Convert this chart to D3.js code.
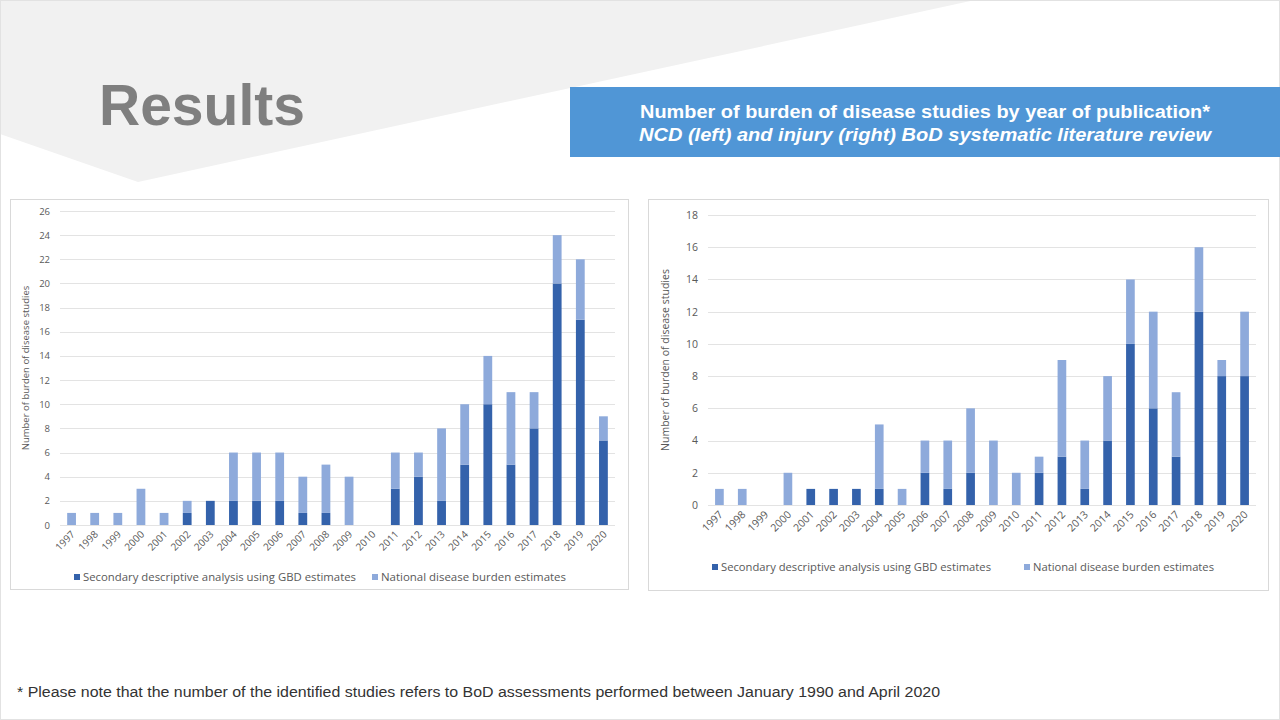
<!DOCTYPE html>
<html>
<head>
<meta charset="utf-8">
<script src="https://cdn.jsdelivr.net/npm/d3@7"></script>
<style>
  html, body { margin: 0; padding: 0; background: #fff; }
  svg { display: block; }
</style>
</head>
<body>
<svg id="slide" width="1280" height="720"></svg>
<script>
// Years of publication (shared by both charts)
const years = ['1997','1998','1999','2000','2001','2002','2003','2004','2005','2006','2007','2008',
               '2009','2010','2011','2012','2013','2014','2015','2016','2017','2018','2019','2020'];

// NCD (left) chart
const ncdGbd      = [0,0,0,0,0,1,2,2,2,2,1,1,0,0,3,4,2,5,10,5,8,20,17,7];
const ncdNational = [1,1,1,3,1,1,0,4,4,4,3,4,4,0,3,2,6,5,4,6,3,4,5,2];
const ncdTicks    = [0,2,4,6,8,10,12,14,16,18,20,22,24,26];

// Injury (right) chart
const injGbd      = [0,0,0,0,1,1,1,1,0,2,1,2,0,0,2,3,1,4,10,6,3,12,8,8];
const injNational = [1,1,0,2,0,0,0,4,1,2,3,4,4,2,1,6,3,4,4,6,4,4,1,4];
const injTicks    = [0,2,4,6,8,10,12,14,16,18];

const seriesNames = ['Secondary descriptive analysis using GBD estimates', 'National disease burden estimates'];
const colors = ['#3462ab', '#8eaadb'];

const svg = d3.select('#slide');

// Slide background decoration
svg.append('path')
    .attr('d', 'M0,0 L975,0 L138,182 L0,134 Z')
    .attr('fill', '#f1f1f1');
svg.append('rect')
    .attr('x', 0.5).attr('y', 0.5).attr('width', 1279).attr('height', 719)
    .attr('fill', 'none').attr('stroke', '#e2e2e2');

svg.append('text')
    .attr('x', 99).attr('y', 125)
    .attr('font-family', 'Liberation Sans, Arial, sans-serif')
    .attr('font-weight', 'bold')
    .attr('font-size', 57)
    .attr('fill', '#7f7f7f')
    .text('Results');

// Title box
svg.append('rect')
    .attr('x', 570).attr('y', 87).attr('width', 712).attr('height', 70)
    .attr('fill', '#5096d6');
svg.append('text')
    .attr('x', 925).attr('y', 118)
    .attr('text-anchor', 'middle')
    .attr('font-family', 'Liberation Sans, Arial, sans-serif')
    .attr('font-weight', 'bold')
    .attr('font-size', 18)
    .attr('fill', '#fff')
    .attr('textLength', 570).attr('lengthAdjust', 'spacingAndGlyphs')
    .text('Number of burden of disease studies by year of publication*');
svg.append('text')
    .attr('x', 925).attr('y', 141)
    .attr('text-anchor', 'middle')
    .attr('font-family', 'Liberation Sans, Arial, sans-serif')
    .attr('font-weight', 'bold')
    .attr('font-style', 'italic')
    .attr('font-size', 18)
    .attr('fill', '#fff')
    .attr('textLength', 572).attr('lengthAdjust', 'spacingAndGlyphs')
    .text('NCD (left) and injury (right) BoD systematic literature review');

// Footnote
svg.append('text')
    .attr('x', 17).attr('y', 697)
    .attr('font-family', 'Liberation Sans, Arial, sans-serif')
    .attr('font-size', 14)
    .attr('fill', '#333')
    .attr('textLength', 923).attr('lengthAdjust', 'spacingAndGlyphs')
    .text('* Please note that the number of the identified studies refers to BoD assessments performed between January 1990 and April 2020');

function drawChart(opts) {
    const { panel, plot, gbd, national, ticks, fs, legend, yTitleX } = opts;

    svg.append('rect')
        .attr('x', panel.x + 0.5).attr('y', panel.y + 0.5)
        .attr('width', panel.w).attr('height', panel.h)
        .attr('fill', '#fff').attr('stroke', '#d9d9d9');

    const data = years.map((y, i) => ({ year: y, gbd: gbd[i], national: national[i] }));
    const stacked = d3.stack().keys(['gbd', 'national'])(data);

    const x = d3.scaleBand()
        .domain(years)
        .range([plot.x0, plot.x1])
        .paddingInner(0.62)
        .paddingOuter(0.31);

    const y = d3.scaleLinear()
        .domain([0, d3.max(ticks)])
        .range([plot.y0, plot.y1]);

    const g = svg.append('g');

    // Gridlines
    g.append('g')
        .selectAll('line')
        .data(ticks)
        .join('line')
        .attr('x1', plot.x0).attr('x2', plot.x1)
        .attr('y1', d => Math.round(y(d)) + 0.5)
        .attr('y2', d => Math.round(y(d)) + 0.5)
        .attr('stroke', '#e3e3e3');

    // Y axis labels
    const yAxis = g.append('g')
        .attr('transform', `translate(${plot.x0 - 10},0)`)
        .call(d3.axisLeft(y).tickValues(ticks).tickSize(0).tickPadding(0));
    yAxis.select('.domain').remove();
    yAxis.selectAll('text')
        .attr('font-family', 'Open Sans, sans-serif')
        .attr('font-size', fs)
        .attr('fill', '#595959');

    // Bars
    g.append('g')
        .selectAll('g')
        .data(stacked)
        .join('g')
        .attr('fill', (d, i) => colors[i])
        .selectAll('rect')
        .data(d => d)
        .join('rect')
        .attr('x', d => x(d.data.year))
        .attr('width', x.bandwidth())
        .attr('y', d => y(d[1]))
        .attr('height', d => y(d[0]) - y(d[1]));

    // X axis labels
    const xAxis = g.append('g')
        .attr('transform', `translate(0,${plot.y0})`)
        .call(d3.axisBottom(x).tickSize(0).tickPadding(0));
    xAxis.select('.domain').remove();
    xAxis.selectAll('text')
        .attr('font-family', 'Open Sans, sans-serif')
        .attr('font-size', opts.xfs)
        .attr('fill', '#595959')
        .attr('text-anchor', 'end')
        .attr('dy', 0)
        .attr('transform', `translate(4,${opts.xfs * 0.6 + 4}) rotate(-45)`);

    // Y axis title
    svg.append('text')
        .attr('transform', `translate(${yTitleX},${(plot.y0 + plot.y1) / 2}) rotate(-90)`)
        .attr('text-anchor', 'middle')
        .attr('font-family', 'Open Sans, sans-serif')
        .attr('font-size', fs)
        .attr('fill', '#595959')
        .text('Number of burden of disease studies');

    // Legend
    const lg = svg.append('g');
    seriesNames.forEach((name, i) => {
        lg.append('rect')
            .attr('x', legend.xs[i]).attr('y', legend.y - 7)
            .attr('width', 6).attr('height', 6)
            .attr('fill', colors[i]);
        lg.append('text')
            .attr('x', legend.xs[i] + 9).attr('y', legend.y)
            .attr('font-family', 'Open Sans, sans-serif')
            .attr('font-size', 11)
            .attr('fill', '#595959')
            .attr('textLength', legend.lens[i]).attr('lengthAdjust', 'spacingAndGlyphs')
            .text(name);
    });
}

drawChart({
    panel: { x: 10, y: 199, w: 618, h: 390 },
    plot: { x0: 60, x1: 615, y0: 525, y1: 211 },
    gbd: ncdGbd, national: ncdNational, ticks: ncdTicks,
    fs: 9.5, xfs: 10, yTitleX: 29,
    legend: { y: 581, xs: [74, 372], lens: [273, 185] }
});

drawChart({
    panel: { x: 648, y: 199, w: 620, h: 391 },
    plot: { x0: 708, x1: 1256, y0: 505, y1: 215 },
    gbd: injGbd, national: injNational, ticks: injTicks,
    fs: 10.5, xfs: 10.5, yTitleX: 669,
    legend: { y: 571, xs: [712, 1024], lens: [270, 181] }
});
</script>
</body>
</html>
